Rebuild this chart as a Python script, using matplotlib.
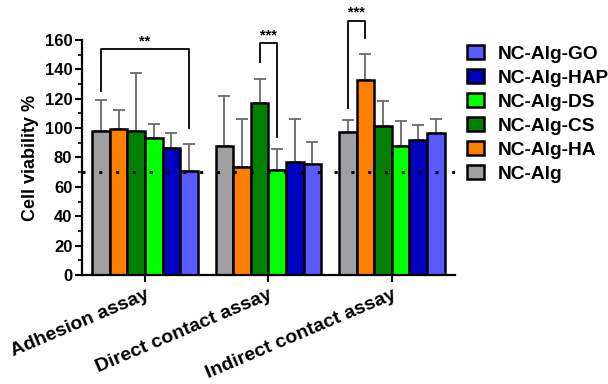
import numpy as np
import matplotlib.pyplot as plt

plt.rcParams['font.family'] = ['Liberation Sans', 'DejaVu Sans']
plt.rcParams['font.weight'] = 'bold'

# Cell viability data (mean and upper SD) for each assay
assays = ['Adhesion assay', 'Direct contact assay', 'Indirect contact assay']
groups = ['NC-Alg', 'NC-Alg-HA', 'NC-Alg-CS', 'NC-Alg-DS', 'NC-Alg-HAP', 'NC-Alg-GO']
colors = ['#a0a0a4', '#ff8000', '#007f00', '#00ff00', '#0000c0', '#5a5aff']

mean_alg = [98.2, 88.0, 97.1]
mean_ha = [99.2, 73.7, 132.5]
mean_cs = [98.2, 116.9, 101.6]
mean_ds = [93.0, 71.5, 87.8]
mean_hap = [86.7, 76.9, 92.1]
mean_go = [71.0, 75.3, 96.7]

sd_alg = [20.8, 33.9, 8.4]
sd_ha = [12.8, 32.5, 18.1]
sd_cs = [39.1, 16.3, 17.1]
sd_ds = [9.6, 14.5, 17.2]
sd_hap = [9.7, 29.5, 10.0]
sd_go = [18.2, 15.4, 9.7]

means = [mean_alg, mean_ha, mean_cs, mean_ds, mean_hap, mean_go]
sds = [sd_alg, sd_ha, sd_cs, sd_ds, sd_hap, sd_go]

threshold = 70

fig = plt.figure(figsize=(6.08, 3.84), dpi=100)
ax = fig.add_axes([0.135, 0.284, 0.613, 0.612])

x = np.arange(len(assays))
w = 0.1425
for i, (g, c) in enumerate(zip(groups, colors)):
    pos = x + (i - 2.5) * w
    ax.bar(pos, means[i], width=w, color=c, edgecolor='black', linewidth=1.8,
           label=g, zorder=2)
    ax.errorbar(pos, means[i], yerr=[np.zeros(3), sds[i]], fmt='none',
                ecolor='#6a6a6a', elinewidth=1.3, capsize=4, capthick=1.3, zorder=1)

ax.axhline(threshold, color='black', linestyle=(0, (1, 4.5)), linewidth=2.2, zorder=3)


# significance brackets: (group, bar a, bar b, top, left leg end, right leg end, label)
def bracket(g, a, b, top, ya, yb, label):
    xa = g + (a - 2.5) * w
    xb = g + (b - 2.5) * w
    ax.plot([xa, xa, xb, xb], [ya, top, top, yb], color='black', linewidth=1.3,
            clip_on=False, zorder=4)
    ax.text((xa + xb) / 2, top + 0.5, label, ha='center', va='bottom', fontsize=10.5,
            fontweight='bold')


bracket(0, 0, 5, 153.6, 125.2, 99.8, '**')
bracket(1, 2, 3, 157.7, 145.2, 94.2, '***')
bracket(2, 0, 1, 173.1, 113.4, 161.1, '***')

ax.set_xlim(-0.51, 2.51)
ax.set_ylim(0, 160)
ax.set_yticks(np.arange(0, 161, 20))
ax.set_yticks(np.arange(0, 161, 10), minor=True)
ax.set_xticks(x)
ax.set_xticklabels(assays, rotation=23, ha='right', rotation_mode='anchor',
                   fontsize=14, fontweight='bold')
ax.tick_params(axis='y', labelsize=12, width=1.5, length=5, pad=2)
ax.tick_params(axis='y', which='minor', width=1.2, length=3)
ax.tick_params(axis='x', width=1.5, length=5, pad=3)
ax.set_ylabel('Cell viability %', fontsize=13, fontweight='bold', labelpad=4)

for s in ['top', 'right']:
    ax.spines[s].set_visible(False)
for s in ['left', 'bottom']:
    ax.spines[s].set_linewidth(1.6)

handles, labels = ax.get_legend_handles_labels()
ax.legend(handles[::-1], labels[::-1], loc='upper left',
          bbox_to_anchor=(467 / 608, 1 - 45 / 384), bbox_transform=fig.transFigure,
          frameon=False, prop={'size': 13.8, 'weight': 'bold'}, handlelength=0.9,
          handleheight=0.75, labelspacing=0.33, handletextpad=0.7, borderaxespad=0,
          borderpad=0)

fig.savefig('out.png', dpi=100)
